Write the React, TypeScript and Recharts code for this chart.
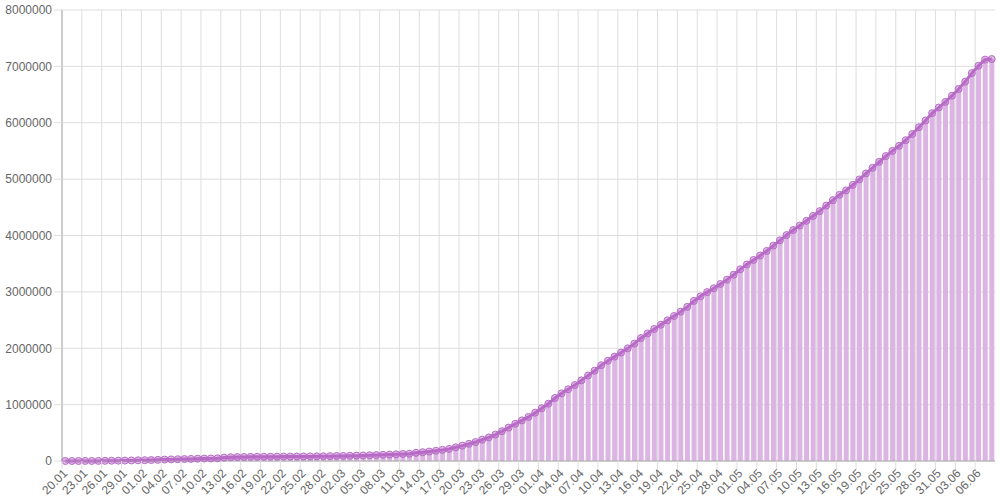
import React from 'react';
import { ComposedChart, Bar, Line, XAxis, YAxis, CartesianGrid } from 'recharts';

const dates: string[] = [
  '20.01','21.01','22.01','23.01','24.01','25.01','26.01','27.01','28.01','29.01','30.01','31.01',
  '01.02','02.02','03.02','04.02','05.02','06.02','07.02','08.02','09.02','10.02','11.02','12.02','13.02','14.02','15.02','16.02','17.02','18.02','19.02','20.02','21.02','22.02','23.02','24.02','25.02','26.02','27.02','28.02','29.02',
  '01.03','02.03','03.03','04.03','05.03','06.03','07.03','08.03','09.03','10.03','11.03','12.03','13.03','14.03','15.03','16.03','17.03','18.03','19.03','20.03','21.03','22.03','23.03','24.03','25.03','26.03','27.03','28.03','29.03','30.03','31.03',
  '01.04','02.04','03.04','04.04','05.04','06.04','07.04','08.04','09.04','10.04','11.04','12.04','13.04','14.04','15.04','16.04','17.04','18.04','19.04','20.04','21.04','22.04','23.04','24.04','25.04','26.04','27.04','28.04','29.04','30.04',
  '01.05','02.05','03.05','04.05','05.05','06.05','07.05','08.05','09.05','10.05','11.05','12.05','13.05','14.05','15.05','16.05','17.05','18.05','19.05','20.05','21.05','22.05','23.05','24.05','25.05','26.05','27.05','28.05','29.05','30.05','31.05',
  '01.06','02.06','03.06','04.06','05.06','06.06','07.06','08.06',
];

const cases: number[] = [
  282, 314, 581, 846, 1320, 2014, 2798, 4593, 6065, 7818, 9826, 11953,
  14557, 17391, 20630, 24554, 28276, 31481, 34886, 37558, 40554, 43103, 45171, 46997, 60370, 66887, 69032, 71226, 73260, 75138, 75641, 76199, 76843, 78599, 78985, 79570, 80415, 81397, 82756, 84124, 86013,
  88371, 90309, 92844, 95124, 97886, 101800, 105836, 109835, 113582, 118582, 125865, 128343, 145193, 156097, 167449, 181531, 197146, 214910, 242708, 272166, 304524, 335955, 378235, 418045, 467653, 529591, 593291, 660706, 720117, 782365, 857487,
  935000, 1016000, 1117000, 1200000, 1273000, 1347000, 1430000, 1516000, 1603000, 1699000, 1779000, 1851000, 1923000, 1998000, 2081000, 2181000, 2263000, 2343000, 2417000, 2495000, 2572000, 2649000, 2734000, 2840000, 2921000, 2996000, 3064000, 3140000, 3217000, 3304000,
  3400000, 3485000, 3566000, 3645000, 3726000, 3820000, 3914000, 4008000, 4097000, 4176000, 4260000, 4347000, 4432000, 4530000, 4627000, 4722000, 4800000, 4896000, 4994000, 5100000, 5200000, 5307000, 5409000, 5500000, 5590000, 5690000, 5800000, 5920000, 6040000, 6170000, 6270000,
  6370000, 6480000, 6600000, 6730000, 6880000, 7010000, 7120000, 7130000,
];

const yTicks: number[] = [0, 1000000, 2000000, 3000000, 4000000, 5000000, 6000000, 7000000, 8000000];

const data = dates.map((d, i) => ({ date: d, cases: cases[i] }));

const FONT = '"Liberation Sans", Arial, Helvetica, sans-serif';
const GRID = '#dedede';
const AXIS = '#aaaaaa';
const TEXT = '#666';

const XTick = (props: any) => {
  const { x, y, payload } = props;
  const off = payload && payload.offset ? payload.offset : 0;
  return (
    <g>
      <line x1={x - off} y1={y - 10} x2={x - off} y2={y - 2} stroke={GRID} />
      <g transform={`translate(${x},${y})`}>
        <text textAnchor="end" dy="0.35em" transform="rotate(-45)" fill={TEXT} fontSize={12} fontFamily={FONT}>
          {payload.value}
        </text>
      </g>
    </g>
  );
};

const verticalGen = (args: any) => {
  const { xAxis, offset } = args;
  const n = dates.length;
  const out: number[] = [];
  const sc = xAxis && xAxis.scale;
  for (let i = 0; i < n; i += 3) {
    let v: number | undefined;
    if (typeof sc === 'function') {
      v = sc(dates[i]);
    }
    if (typeof v !== 'number' || isNaN(v)) {
      v = offset.left + (i * offset.width) / n;
    }
    out.push(v);
  }
  return out;
};

export default function App() {
  return (
    <div style={{ position: 'absolute', left: 0, top: 0, width: 1000, height: 500, background: '#fff' }}>
      <ComposedChart
        width={1000}
        height={500}
        data={data}
        margin={{ top: 10, right: 5, left: 0, bottom: 0 }}
        barCategoryGap="14%"
      >
        <CartesianGrid stroke={GRID} verticalCoordinatesGenerator={verticalGen} />
        <XAxis
          dataKey="date"
          interval={2}
          height={39}
          tickLine={false}
          tickSize={8}
          tickMargin={2}
          axisLine={{ stroke: AXIS }}
          tick={<XTick />}
        />
        <YAxis
          width={62}
          domain={[0, 8000000]}
          ticks={yTicks}
          tickSize={8}
          tickMargin={2}
          axisLine={{ stroke: AXIS }}
          tickLine={{ stroke: GRID }}
          tick={{ fill: TEXT, fontSize: 12, fontFamily: FONT }}
        />
        <Bar dataKey="cases" fill="#DCB4E4" isAnimationActive={false} />
        <Line
          type="linear"
          dataKey="cases"
          stroke="#B66CC6"
          strokeWidth={3}
          dot={{ r: 3.5, fill: 'rgba(186,104,200,0.45)', stroke: '#B66CC6', strokeWidth: 1 }}
          activeDot={false}
          isAnimationActive={false}
        />
      </ComposedChart>
    </div>
  );
}
